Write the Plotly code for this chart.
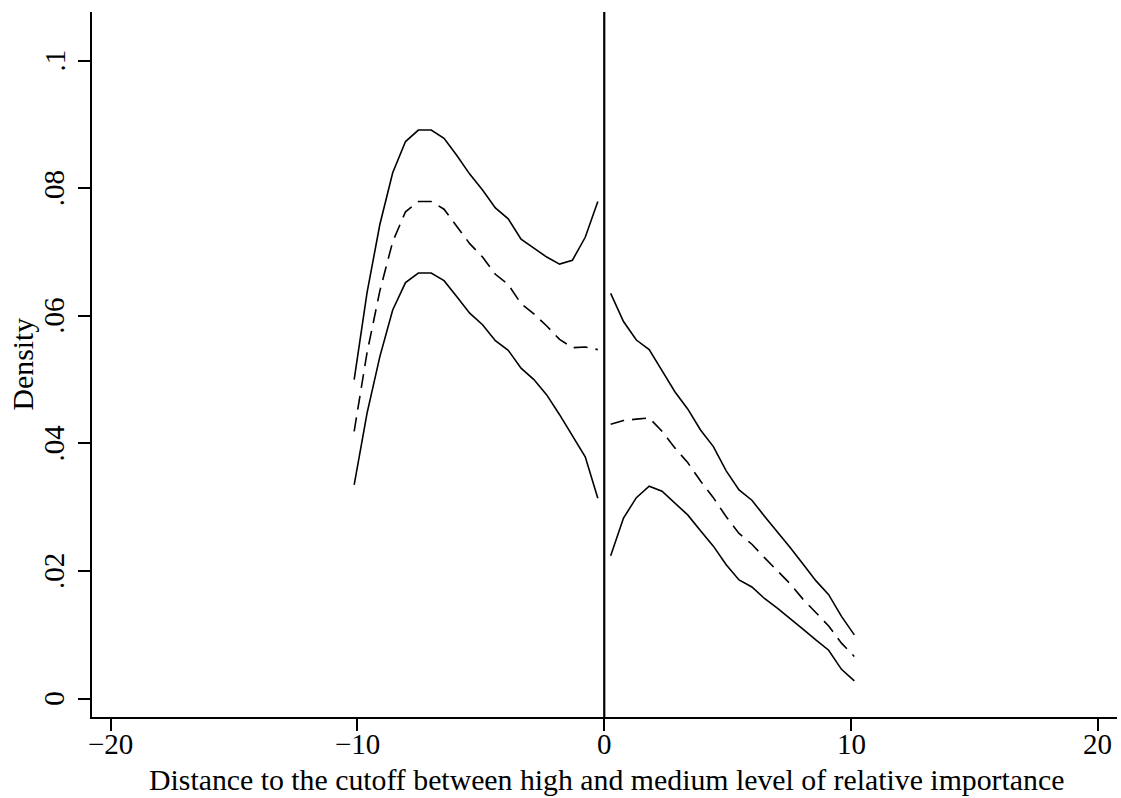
import plotly.graph_objects as go

# x positions of the density estimation points (distance to cutoff)
x_left = [-10.13, -9.61, -9.09, -8.57, -8.05, -7.53, -7.01, -6.49, -5.97, -5.45,
          -4.93, -4.41, -3.89, -3.37, -2.85, -2.33, -1.81, -1.29, -0.77, -0.26]
x_right = [0.26, 0.78, 1.30, 1.82, 2.34, 2.86, 3.38, 3.90, 4.42, 4.94,
           5.46, 5.98, 6.49, 7.01, 7.53, 8.05, 8.57, 9.09, 9.61, 10.13]

# left of cutoff
upper_left = [0.0500, 0.0636, 0.0743, 0.0824, 0.0873, 0.0891, 0.0891, 0.0878, 0.0851, 0.0822,
              0.0797, 0.0769, 0.0752, 0.0720, 0.0706, 0.0692, 0.0681, 0.0687, 0.0723, 0.0779]
dens_left = [0.0419, 0.0542, 0.0639, 0.0716, 0.0763, 0.0779, 0.0779, 0.0767, 0.0740, 0.0713,
             0.0692, 0.0665, 0.0649, 0.0619, 0.0603, 0.0584, 0.0563, 0.0550, 0.0551, 0.0547]
lower_left = [0.0335, 0.0447, 0.0536, 0.0609, 0.0652, 0.0667, 0.0667, 0.0655, 0.0630, 0.0604,
              0.0586, 0.0561, 0.0546, 0.0518, 0.0500, 0.0476, 0.0445, 0.0412, 0.0379, 0.0314]

# right of cutoff
upper_right = [0.0635, 0.0591, 0.0562, 0.0547, 0.0514, 0.0481, 0.0454, 0.0421, 0.0395, 0.0357,
               0.0327, 0.0311, 0.0286, 0.0262, 0.0237, 0.0211, 0.0185, 0.0163, 0.0129, 0.0100]
dens_right = [0.0430, 0.0436, 0.0438, 0.0440, 0.0419, 0.0393, 0.0370, 0.0341, 0.0315, 0.0285,
              0.0259, 0.0242, 0.0221, 0.0201, 0.0180, 0.0156, 0.0135, 0.0114, 0.0087, 0.0066]
lower_right = [0.0224, 0.0283, 0.0315, 0.0333, 0.0325, 0.0306, 0.0288, 0.0263, 0.0239, 0.0210,
               0.0186, 0.0175, 0.0157, 0.0142, 0.0126, 0.0109, 0.0092, 0.0076, 0.0046, 0.0028]

x_tickvals = [-20, -10, 0, 10, 20]
x_ticktext = ["\u221220", "\u221210", "0", "10", "20"]
y_tickvals = [0, 0.02, 0.04, 0.06, 0.08, 0.1]
y_ticktext = ["0", ".02", ".04", ".06", ".08", ".1"]

x_title = "Distance to the cutoff between high and medium level of relative importance"
y_title = "Density"

FONT = "Liberation Serif, Times New Roman, serif"

fig = go.Figure()
solid = dict(color="black", width=1.6)
dashed = dict(color="black", width=1.6, dash="14px,8px")
for xs, ys, ln in [
    (x_left, upper_left, solid), (x_left, dens_left, dashed), (x_left, lower_left, solid),
    (x_right, upper_right, solid), (x_right, dens_right, dashed), (x_right, lower_right, solid),
]:
    fig.add_trace(go.Scatter(x=xs, y=ys, mode="lines", line=ln, showlegend=False,
                             hoverinfo="skip"))

fig.add_shape(type="line", x0=0, x1=0, xref="x", y0=0, y1=1, yref="paper",
              line=dict(color="black", width=2.2))

tfont = dict(family=FONT, size=29, color="black")

# tick labels placed at the axis' own tick values
for v, t in zip(x_tickvals, x_ticktext):
    fig.add_annotation(text=t, showarrow=False, xref="x", x=v, xanchor="center",
                       yref="paper", y=0, yanchor="middle", yshift=-27, font=tfont)
for v, t in zip(y_tickvals, y_ticktext):
    fig.add_annotation(text=t, textangle=-90, showarrow=False, xref="paper", x=0,
                       xanchor="center", xshift=-38, yref="y", y=v, yanchor="middle",
                       font=tfont)

# axis titles
fig.add_annotation(text=x_title, showarrow=False, xref="paper", x=0.5, xshift=2,
                   xanchor="center", yref="paper", y=0, yanchor="middle", yshift=-62,
                   font=dict(family=FONT, size=29.8, color="black"))
fig.add_annotation(text=y_title, textangle=-90, showarrow=False,
                   xref="paper", x=0, xanchor="center", xshift=-70,
                   yref="paper", y=0.5, yanchor="middle",
                   font=dict(family=FONT, size=29.8, color="black"))

fig.update_layout(
    width=1121, height=798,
    margin=dict(l=92, r=4, t=12, b=81),
    paper_bgcolor="white", plot_bgcolor="white",
    font=dict(family=FONT, size=29, color="black"),
    xaxis=dict(
        range=[-20.75, 20.77],
        tickvals=x_tickvals, showticklabels=False,
        ticks="outside", ticklen=12, tickwidth=1.6, tickcolor="black",
        showline=True, linecolor="black", linewidth=1.8,
        showgrid=False, zeroline=False,
    ),
    yaxis=dict(
        range=[-0.00287, 0.1076],
        tickvals=y_tickvals, showticklabels=False,
        ticks="outside", ticklen=12, tickwidth=1.6, tickcolor="black",
        showline=True, linecolor="black", linewidth=1.8,
        showgrid=False, zeroline=False,
    ),
)

fig.write_html("out.html")
